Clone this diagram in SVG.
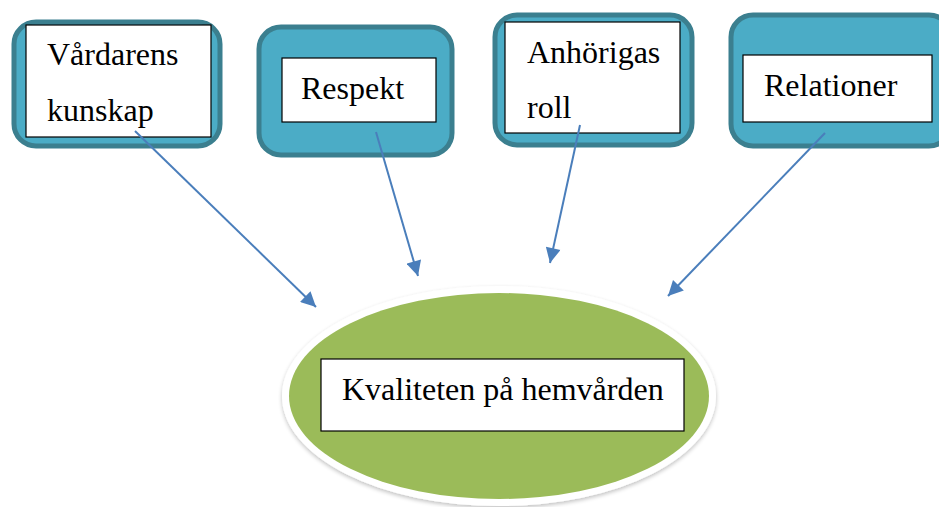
<svg xmlns="http://www.w3.org/2000/svg" width="939" height="507" viewBox="0 0 939 507">
<defs>
<style>
.outer{fill:#4BACC6;stroke:#3B7F8F;stroke-width:5}
.inner{fill:#ffffff;stroke:#000000;stroke-width:1.2}
.lbl{font-family:"Liberation Serif","Times New Roman",serif;font-size:32px;fill:#000000}
.conn{stroke:#4A7EBB;stroke-width:2;fill:none;marker-end:url(#ah)}
</style>
<marker id="ah" viewBox="0 0 10 10" refX="10" refY="5" markerWidth="17" markerHeight="15" markerUnits="userSpaceOnUse" orient="auto">
<path d="M0,0 L10,5 L0,10 z" fill="#4A7EBB"/>
</marker>
<filter id="sh" x="-10%" y="-10%" width="120%" height="130%">
<feGaussianBlur in="SourceAlpha" stdDeviation="2"/>
<feOffset dx="0" dy="2"/>
<feComponentTransfer><feFuncA type="linear" slope="0.25"/></feComponentTransfer>
<feMerge><feMergeNode/><feMergeNode in="SourceGraphic"/></feMerge>
</filter>
</defs>
<rect width="939" height="507" fill="#ffffff"/>
<g id="node-vardarens">
<rect class="outer" x="14" y="22" width="206" height="124" rx="22"/>
<rect class="inner" x="26" y="25" width="185" height="112"/>
<text class="lbl" x="47" y="65">Vårdarens</text>
<text class="lbl" x="47" y="121">kunskap</text>
</g>
<g id="node-respekt">
<rect class="outer" x="259" y="27" width="193" height="128" rx="22"/>
<rect class="inner" x="282" y="58" width="154" height="64"/>
<text class="lbl" x="301" y="99">Respekt</text>
</g>
<g id="node-anhorigas">
<rect class="outer" x="495" y="15" width="197" height="130" rx="22"/>
<rect class="inner" x="505" y="22" width="175" height="111"/>
<text class="lbl" x="527" y="63">Anhörigas</text>
<text class="lbl" x="527" y="118">roll</text>
</g>
<g id="node-relationer">
<rect class="outer" x="731" y="15" width="220" height="131" rx="22"/>
<rect class="inner" x="743" y="55" width="189" height="67"/>
<text class="lbl" x="764" y="96">Relationer</text>
</g>
<g id="node-kvaliteten">
<ellipse cx="499" cy="396" rx="217" ry="110" fill="#ffffff" filter="url(#sh)"/>
<ellipse cx="499" cy="396" rx="210" ry="103" fill="#9BBB59"/>
<rect class="inner" x="321" y="359" width="363" height="72"/>
<text class="lbl" x="342" y="400">Kvaliteten på hemvården</text>
</g>
<g id="connectors">
<line class="conn" x1="135" y1="131" x2="316" y2="307"/>
<line class="conn" x1="376" y1="132" x2="418" y2="276"/>
<line class="conn" x1="580" y1="125" x2="550" y2="263"/>
<line class="conn" x1="825" y1="133" x2="668" y2="296"/>
</g>
</svg>
